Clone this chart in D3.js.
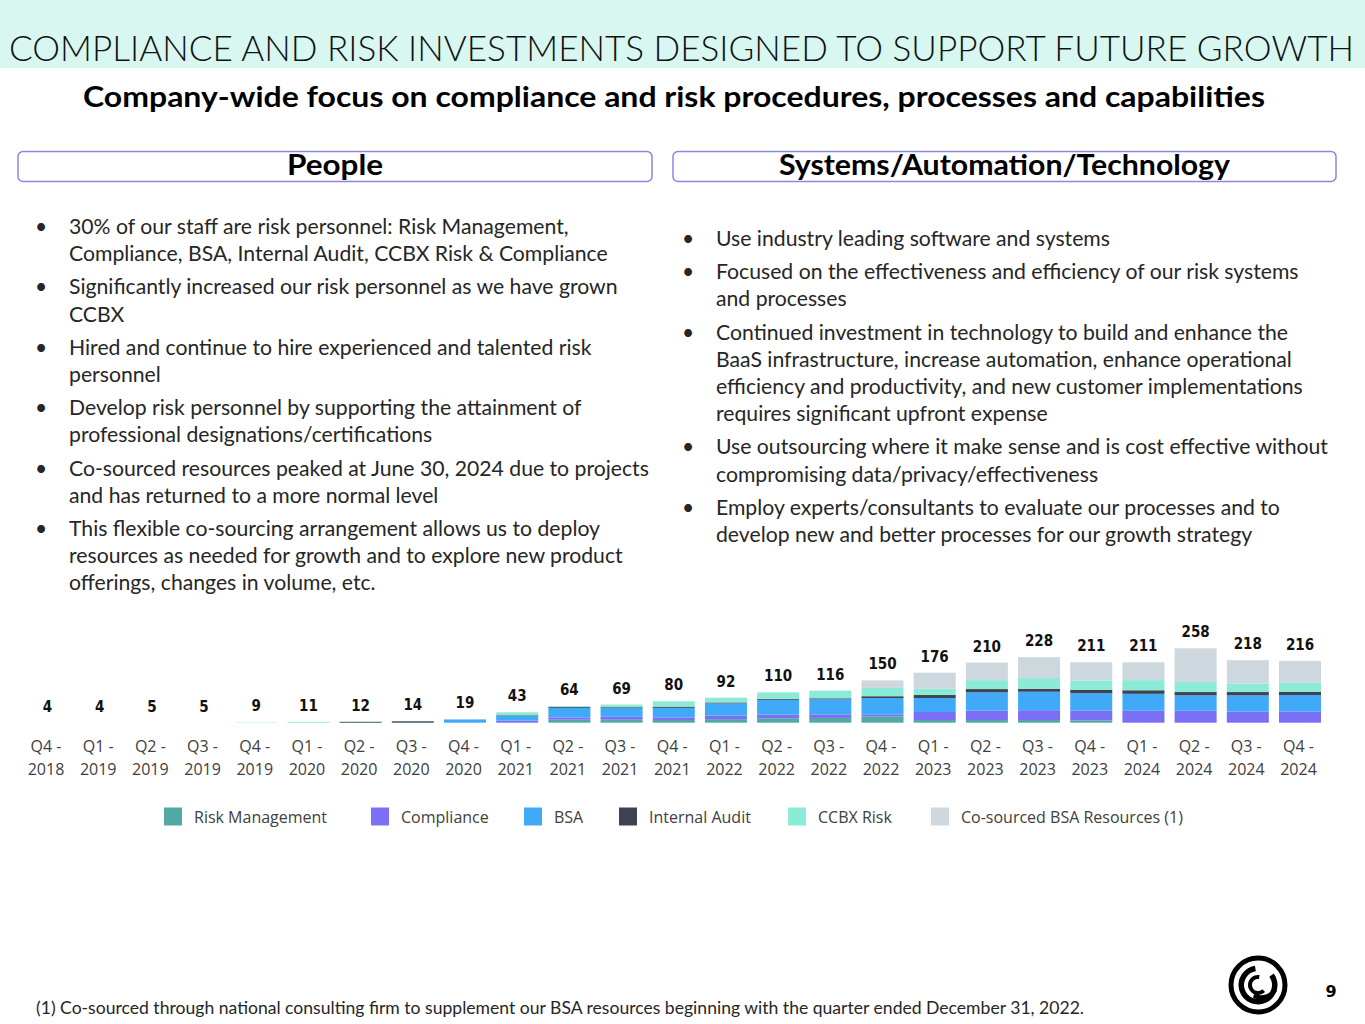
<!DOCTYPE html>
<html>
<head>
<meta charset="utf-8">
<script src="https://cdn.jsdelivr.net/npm/d3@7"></script>
<style>
  body { margin: 0; background: #fff; }
  svg { display: block; }
</style>
</head>
<body>
<svg id="slide" width="1365" height="1024"></svg>
<script>
// quarters on the x axis
const quarters = ["Q4 - 2018", "Q1 - 2019", "Q2 - 2019", "Q3 - 2019", "Q4 - 2019",
  "Q1 - 2020", "Q2 - 2020", "Q3 - 2020", "Q4 - 2020", "Q1 - 2021", "Q2 - 2021",
  "Q3 - 2021", "Q4 - 2021", "Q1 - 2022", "Q2 - 2022", "Q3 - 2022", "Q4 - 2022",
  "Q1 - 2023", "Q2 - 2023", "Q3 - 2023", "Q4 - 2023", "Q1 - 2024", "Q2 - 2024",
  "Q3 - 2024", "Q4 - 2024"];

// headcount per group
const riskManagement = [1, 1, 1, 1, 1, 1, 1, 1, 1, 5, 18, 18, 17, 20, 23, 24, 29, 17, 17, 17, 16, 0, 0, 0, 0];
const compliance     = [1, 1, 1, 1, 2, 2, 2, 2, 2, 10, 8, 10, 9, 12, 12, 12, 7, 27, 32, 33, 33, 48, 48, 45, 45];
const bsa            = [2, 2, 3, 3, 4, 4, 4, 4, 16, 16, 32, 29, 32, 41, 50, 51, 55, 47, 61, 62, 58, 57, 52, 55, 56];
const internalAudit  = [0, 0, 0, 0, 0, 0, 4, 6, 0, 2, 3, 3, 4, 3, 3, 3, 6, 10, 11, 10, 11, 12, 11, 11, 11];
const ccbxRisk       = [0, 0, 0, 0, 2, 4, 1, 1, 0, 10, 3, 9, 18, 16, 22, 26, 28, 21, 30, 36, 32, 34, 34, 28, 31];
const coSourced      = [0, 0, 0, 0, 0, 0, 0, 0, 0, 0, 0, 0, 0, 0, 0, 0, 25, 54, 59, 70, 61, 60, 113, 79, 73];

const seriesNames = ["Risk Management", "Compliance", "BSA", "Internal Audit", "CCBX Risk",
  "Co-sourced BSA Resources (1)"];
const seriesColors = ["#50A9A5", "#7A70F5", "#40AAF8", "#3D4351", "#8CEBD7", "#CDD7DE"];

const peopleLines = [
  ["30% of our staff are risk personnel: Risk Management,", "Compliance, BSA, Internal Audit, CCBX Risk & Compliance"],
  ["Significantly increased our risk personnel as we have grown", "CCBX"],
  ["Hired and continue to hire experienced and talented risk", "personnel"],
  ["Develop risk personnel by supporting the attainment of", "professional designations/certifications"],
  ["Co-sourced resources peaked at June 30, 2024 due to projects", "and has returned to a more normal level"],
  ["This flexible co-sourcing arrangement allows us to deploy", "resources as needed for growth and to explore new product",
    "offerings, changes in volume, etc."]
];
const systemsLines = [
  ["Use industry leading software and systems"],
  ["Focused on the effectiveness and efficiency of our risk systems", "and processes"],
  ["Continued investment in technology to build and enhance the",
    "BaaS infrastructure, increase automation, enhance operational",
    "efficiency and productivity, and new customer implementations",
    "requires significant upfront expense"],
  ["Use outsourcing where it make sense and is cost effective without", "compromising data/privacy/effectiveness"],
  ["Employ experts/consultants to evaluate our processes and to", "develop new and better processes for our growth strategy"]
];

const svg = d3.select("#slide");
const bodyFont = "Lato, 'Open Sans', sans-serif";

// header band
svg.append("rect").attr("x", 0).attr("y", 0).attr("width", 1365).attr("height", 68).attr("fill", "#D8F7F1");
svg.append("text")
  .attr("x", 9).attr("y", 61)
  .attr("textLength", 1345).attr("lengthAdjust", "spacingAndGlyphs")
  .style("font-family", bodyFont).style("font-weight", 300).style("font-size", "35px")
  .attr("fill", "#111")
  .text("COMPLIANCE AND RISK INVESTMENTS DESIGNED TO SUPPORT FUTURE GROWTH");

svg.append("text")
  .attr("x", 83).attr("y", 107)
  .attr("textLength", 1182).attr("lengthAdjust", "spacingAndGlyphs")
  .style("font-family", bodyFont).style("font-weight", "bold").style("font-size", "29px")
  .attr("fill", "#000")
  .text("Company-wide focus on compliance and risk procedures, processes and capabilities");

// section boxes
const boxes = [
  { x: 18, w: 634, label: "People", tw: 96 },
  { x: 673, w: 663, label: "Systems/Automation/Technology", tw: 451 }
];
boxes.forEach((b) => {
  svg.append("rect")
    .attr("x", b.x).attr("y", 151.5).attr("width", b.w).attr("height", 30).attr("rx", 5)
    .attr("fill", "#fff").attr("stroke", "#8A86E2").attr("stroke-width", 1.5);
  svg.append("text")
    .attr("x", b.x + b.w / 2).attr("y", 175)
    .attr("text-anchor", "middle")
    .attr("textLength", b.tw).attr("lengthAdjust", "spacingAndGlyphs")
    .style("font-family", bodyFont).style("font-weight", "bold").style("font-size", "29px")
    .text(b.label);
});

function bullets(groups, bx, tx, y0) {
  let y = y0;
  groups.forEach((lines) => {
    svg.append("text").attr("x", bx).attr("y", y)
      .style("font-family", bodyFont).style("font-size", "21px").attr("fill", "#262626")
      .text("•");
    lines.forEach((line) => {
      svg.append("text").attr("x", tx).attr("y", y)
        .style("font-family", bodyFont).style("font-size", "21.2px").attr("fill", "#262626")
        .text(line);
      y += 27.2;
    });
    y += 6;
  });
}
bullets(peopleLines, 35, 69, 234);
bullets(systemsLines, 682, 716, 246);

// chart
const x = d3.scaleBand().domain(quarters).range([21.4, 1326.1]).paddingInner(0.195).paddingOuter(0.0975);
const y = d3.scaleLinear().domain([8, 258]).range([722.7, 648.3]).clamp(true);

const table = quarters.map((q, i) => ({
  quarter: q,
  "Risk Management": riskManagement[i],
  "Compliance": compliance[i],
  "BSA": bsa[i],
  "Internal Audit": internalAudit[i],
  "CCBX Risk": ccbxRisk[i],
  "Co-sourced BSA Resources (1)": coSourced[i]
}));
const stacked = d3.stack().keys(seriesNames)(table);

const chart = svg.append("g");
chart.selectAll(".series")
  .data(stacked)
  .enter()
  .append("g")
  .attr("class", "series")
  .attr("fill", (d, i) => seriesColors[i])
  .selectAll("rect")
  .data((d) => d)
  .enter()
  .append("rect")
  .attr("x", (d) => x(d.data.quarter))
  .attr("width", x.bandwidth())
  .attr("y", (d) => y(d[1]))
  .attr("height", (d) => y(d[0]) - y(d[1]));

const totals = table.map((d) => d3.sum(seriesNames, (k) => d[k]));
chart.selectAll(".total")
  .data(totals)
  .enter()
  .append("text")
  .attr("class", "total")
  .attr("x", (d, i) => x(quarters[i]) + x.bandwidth() / 2)
  .attr("y", (d) => y(d) - 11)
  .attr("text-anchor", "middle")
  .style("font-family", "'DejaVu Sans Condensed', 'DejaVu Sans', sans-serif")
  .style("font-stretch", "condensed")
  .style("font-weight", "bold").style("font-size", "15px")
  .attr("fill", "#111")
  .text((d) => d);

const xAxis = d3.axisBottom(x).tickSize(0).tickPadding(0).tickFormat("");
const axisG = chart.append("g").attr("transform", "translate(0,722.7)").call(xAxis);
axisG.select(".domain").remove();
axisG.selectAll(".tick").each(function (q) {
  const parts = q.split(" - ");
  const t = d3.select(this).append("text")
    .attr("fill", "#404040").attr("text-anchor", "middle")
    .style("font-family", "'Open Sans', sans-serif").style("font-size", "16px");
  t.append("tspan").attr("x", -1.5).attr("y", 29).text(parts[0] + " -");
  t.append("tspan").attr("x", -1.5).attr("y", 52).text(parts[1]);
});

// legend
const legendX = [164, 371, 524, 619, 788, 931];
const legend = svg.append("g");
seriesNames.forEach((name, i) => {
  legend.append("rect").attr("x", legendX[i]).attr("y", 807.5).attr("width", 18).attr("height", 18)
    .attr("fill", seriesColors[i]);
  legend.append("text").attr("x", legendX[i] + 30).attr("y", 823)
    .style("font-family", "'Open Sans', sans-serif").style("font-size", "16px").attr("fill", "#404040")
    .text(name);
});

// footnote and page number
svg.append("text").attr("x", 36).attr("y", 1014)
  .attr("textLength", 1048).attr("lengthAdjust", "spacingAndGlyphs")
  .style("font-family", bodyFont).style("font-size", "16.5px").attr("fill", "#262626")
  .text("(1) Co-sourced through national consulting firm to supplement our BSA resources beginning with the quarter ended December 31, 2022.");
svg.append("text").attr("x", 1331).attr("y", 997).attr("text-anchor", "middle")
  .style("font-family", "'DejaVu Sans', sans-serif").style("font-weight", "bold").style("font-size", "16px")
  .text("9");

// logo
const logo = svg.append("g").attr("transform", "translate(1258,985)");
logo.append("circle").attr("r", 27).attr("fill", "none").attr("stroke", "#000").attr("stroke-width", 5);
const arc = d3.arc();
logo.append("path").attr("fill", "#000")
  .attr("d", arc({ innerRadius: 14, outerRadius: 19.5, startAngle: 0.3 * Math.PI, endAngle: 1.95 * Math.PI }));
logo.append("path").attr("fill", "#000")
  .attr("d", arc({ innerRadius: 6, outerRadius: 10, startAngle: 0.75 * Math.PI, endAngle: 2.05 * Math.PI }));
logo.append("path").attr("fill", "#000")
  .attr("d", "M-4,9 Q8,13 17,3 L19,6 Q9,19 -5,13 Z");
</script>
</body>
</html>
